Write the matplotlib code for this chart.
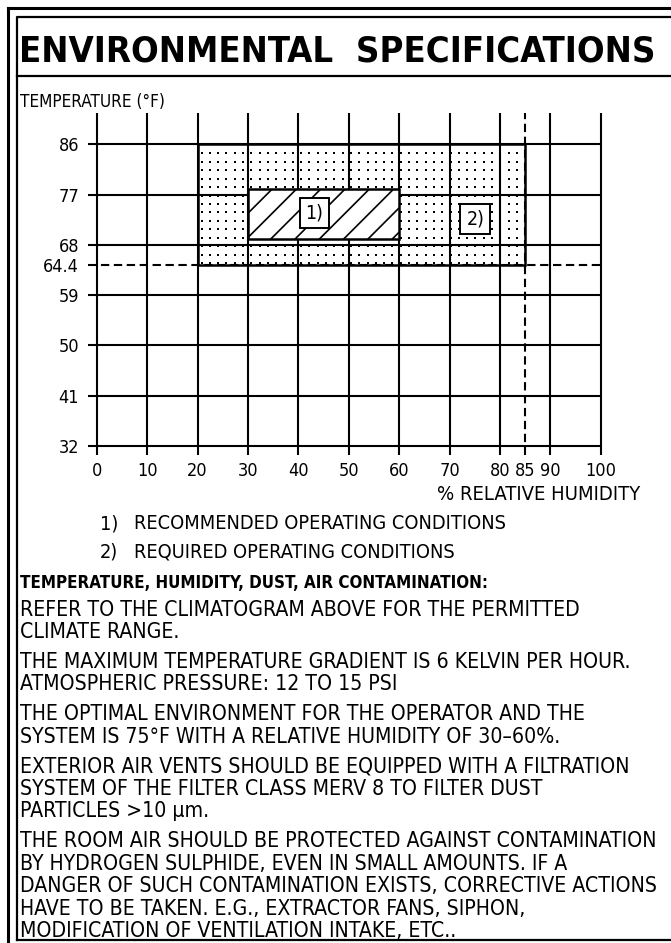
import matplotlib
matplotlib.use('Agg')
import matplotlib.pyplot as plt
import numpy as np
from matplotlib import font_manager as fm
from matplotlib.patches import Rectangle

# ---------------- data ----------------
rh_grid = [0, 10, 20, 30, 40, 50, 60, 70, 80, 90, 100]
rh_ticks = [0, 10, 20, 30, 40, 50, 60, 70, 80, 85, 90, 100]
rh_tick_labels = ['0', '10', '20', '30', '40', '50', '60', '70', '80', '85', '90', '100']
temp_grid = [32, 41, 50, 59, 68, 77, 86]
temp_ticks = [32, 41, 50, 59, 64.4, 68, 77, 86]
temp_tick_labels = ['32', '41', '50', '59', '64.4', '68', '77', '86']
limit_rh = 85
limit_temp = 64.4
required_rh = [20, 85]
required_temp = [64.4, 86]
recommended_rh = [30, 60]
recommended_temp = [69, 78]
zone_labels = ['1)', '2)']
zone_label_rh = [43.2, 75.1]
zone_label_temp = [73.7, 72.6]
legend_keys = ['1)', '2)']
legend_items = ['RECOMMENDED OPERATING CONDITIONS', 'REQUIRED OPERATING CONDITIONS']
title = 'ENVIRONMENTAL  SPECIFICATIONS'
y_title = 'TEMPERATURE (°F)'
x_title = '% RELATIVE HUMIDITY'
header = 'TEMPERATURE, HUMIDITY, DUST, AIR CONTAMINATION:'
paragraphs = [
    ['REFER TO THE CLIMATOGRAM ABOVE FOR THE PERMITTED', 'CLIMATE RANGE.'],
    ['THE MAXIMUM TEMPERATURE GRADIENT IS 6 KELVIN PER HOUR.', 'ATMOSPHERIC PRESSURE: 12 TO 15 PSI'],
    ['THE OPTIMAL ENVIRONMENT FOR THE OPERATOR AND THE', 'SYSTEM IS 75°F WITH A RELATIVE HUMIDITY OF 30–60%.'],
    ['EXTERIOR AIR VENTS SHOULD BE EQUIPPED WITH A FILTRATION',
     'SYSTEM OF THE FILTER CLASS MERV 8 TO FILTER DUST', 'PARTICLES >10 µm.'],
    ['THE ROOM AIR SHOULD BE PROTECTED AGAINST CONTAMINATION',
     'BY HYDROGEN SULPHIDE, EVEN IN SMALL AMOUNTS. IF A',
     'DANGER OF SUCH CONTAMINATION EXISTS, CORRECTIVE ACTIONS',
     'HAVE TO BE TAKEN. E.G., EXTRACTOR FANS, SIPHON,',
     'MODIFICATION OF VENTILATION INTAKE, ETC..'],
]

# ---------------- setup ----------------
W, H, DPI = 671, 943, 100
names = {f.name for f in fm.fontManager.ttflist}
FONT = next((n for n in ['Liberation Sans Narrow', 'DejaVu Sans'] if n in names), 'DejaVu Sans')
plt.rcParams['font.family'] = [FONT, 'DejaVu Sans']
plt.rcParams['font.stretch'] = 'condensed'

fig = plt.figure(figsize=(W / DPI, H / DPI), dpi=DPI)
fig.patch.set_facecolor('white')
renderer = fig.canvas.get_renderer()

bg = fig.add_axes([0, 0, 1, 1])
bg.set_xlim(0, W)
bg.set_ylim(H, 0)
bg.axis('off')


def fit(t, target_w):
    w = t.get_window_extent(renderer).width
    t.set_fontsize(t.get_fontsize() * target_w / w)
    return t.get_fontsize()


# frame
bg.plot([8, 8], [8, H], color='black', lw=2.2)
bg.plot([8, W], [8, 8], color='black', lw=2.2)
bg.plot([17, 17, W], [940, 17, 17], color='black', lw=1.6)
bg.plot([17, W], [940, 940], color='black', lw=1.6)
bg.plot([17, W], [76, 76], color='black', lw=1.6)

# title
t = bg.text(337, 62, title, ha='center', va='baseline', fontsize=30, fontweight='bold')
fit(t, 635)

t = bg.text(20, 107, y_title, ha='left', va='baseline', fontsize=11)
fit(t, 145)

# ---------------- chart ----------------
px0, pxs = 96.7, 5.04      # pixel of rh=0, px per %
py86, pys = 144.3, 5.587   # pixel of 86F, px per F
L, R, T, B = 86, 612, 105, 462
ax = fig.add_axes([L / W, 1 - B / H, (R - L) / W, (B - T) / H])
ax.set_xlim((L - px0) / pxs, (R - px0) / pxs)
ax.set_ylim(86 - (B - py86) / pys, 86 + (py86 - T) / pys)
ax.patch.set_alpha(0)
for s in ax.spines.values():
    s.set_visible(False)

LW = 1.5
x_lo, y_top, y_bot = -1.7, 91.55, 30.4
ax.hlines(temp_grid, x_lo, 100, color='black', lw=LW, zorder=2)
ax.vlines(rh_grid, y_bot, y_top, color='black', lw=LW, zorder=2)
ax.hlines([limit_temp], x_lo, 100, color='black', lw=LW, linestyles=[(0, (4, 2.2))], zorder=2)
ax.vlines([limit_rh], y_bot, y_top, color='black', lw=LW, linestyles=[(0, (4, 2.2))], zorder=2)

# required region (dotted)
req = Rectangle((required_rh[0], required_temp[0]), required_rh[1] - required_rh[0],
                required_temp[1] - required_temp[0], fc='none', ec='black', lw=1.8, zorder=3)
ax.add_patch(req)
tr = ax.transData
inv = tr.inverted()
(dx0, dy0) = tr.transform((required_rh[0], required_temp[0]))
(dx1, dy1) = tr.transform((required_rh[1], required_temp[1]))
gx = np.arange(dx0 + 4, dx1 - 1, 8.3)
gy = np.arange(dy1 - 9, dy0 + 1, -8.45)
GX, GY = np.meshgrid(gx, gy)
pts = inv.transform(np.column_stack([GX.ravel(), GY.ravel()]))
ax.scatter(pts[:, 0], pts[:, 1], s=1.3, color='black', marker='s', linewidths=0, zorder=1)

# recommended region (hatched)
rec = Rectangle((recommended_rh[0], recommended_temp[0]), recommended_rh[1] - recommended_rh[0],
                recommended_temp[1] - recommended_temp[0], fc='white', ec='black', lw=1.8, zorder=4)
ax.add_patch(rec)
(rx0, ry0) = tr.transform((recommended_rh[0], recommended_temp[0]))
(rx1, ry1) = tr.transform((recommended_rh[1], recommended_temp[1]))
hh = ry1 - ry0
for xt in np.arange(rx0, rx1 + hh, 24.3):
    p = inv.transform(np.array([[xt - hh - 2, ry0 - 2], [xt + 2, ry1 + 2]]))
    ln, = ax.plot(p[:, 0], p[:, 1], color='black', lw=1.2, zorder=5)
    ln.set_clip_path(rec)

# zone labels
for lab, zx, zy in zip(zone_labels, zone_label_rh, zone_label_temp):
    ax.text(zx, zy, lab, ha='center', va='center', fontsize=14, zorder=6,
            bbox=dict(boxstyle='square,pad=0.3', fc='white', ec='black', lw=1.4))

# ticks
ax.set_xticks(rh_ticks)
ax.set_xticklabels(rh_tick_labels, fontsize=13)
ax.set_yticks(temp_ticks)
ax.set_yticklabels(temp_tick_labels, fontsize=13)
ax.tick_params(axis='both', length=0, colors='black')
ax.tick_params(axis='x', pad=0)
ax.tick_params(axis='y', pad=5)

# axis title + legend
t = bg.text(640, 500, x_title, ha='right', va='baseline', fontsize=12)
fit(t, 203)
t = bg.text(134, 529, legend_items[0], ha='left', va='baseline', fontsize=12)
lsz = fit(t, 373)
bg.text(100, 529, legend_keys[0], ha='left', va='baseline', fontsize=lsz)
bg.text(100, 557, legend_keys[1], ha='left', va='baseline', fontsize=lsz)
bg.text(134, 557, legend_items[1], ha='left', va='baseline', fontsize=lsz)

# text block
t = bg.text(20, 588, header, ha='left', va='baseline', fontsize=12, fontweight='bold')
fit(t, 467)

all_lines = [ln_ for para in paragraphs for ln_ in para]
sizes = []
for line in all_lines:
    probe = bg.text(20, 0, line, fontsize=12)
    sizes.append(fit(probe, 636))
    probe.remove()
psz = min(sizes)

y = 615.5
for para in paragraphs:
    for line in para:
        bg.text(20, y, line, ha='left', va='baseline', fontsize=psz)
        y += 22.4
    y += 7.6

fig.savefig('out.png', dpi=DPI, facecolor='white')
